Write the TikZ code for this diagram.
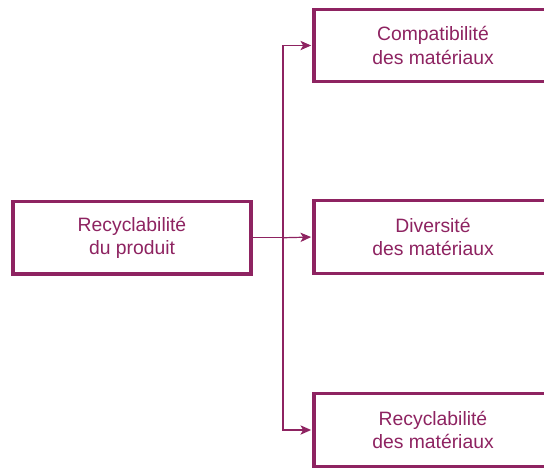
\documentclass[tikz,border=0pt]{standalone}
\usepackage{fontspec}
\setmainfont{Liberation Sans}
\usetikzlibrary{arrows.meta}
\definecolor{plum}{RGB}{142,35,97}
\begin{document}
\begin{tikzpicture}[x=0.75pt,y=-0.75pt,
  box/.style={draw=plum,line width=2.3pt,fill=white,text=plum,align=center,
    minimum width=178.5pt,minimum height=54.4pt,inner sep=0pt,
    font=\fontsize{14.5pt}{17.4pt}\selectfont},
  conn/.style={draw=plum,line width=0.9pt},
  arr/.style={conn,-{Stealth[length=8pt,width=7pt,inset=2pt]},shorten >=1pt}]
\useasboundingbox (0,0) rectangle (544,468);
\node[box] (L) at (132,237.75) {Recyclabilité\\du produit};
\node[box] (T) at (433,45.5) {Compatibilité\\des matériaux};
\node[box] (M) at (433,237) {Diversité\\des matériaux};
\node[box] (B) at (433,430) {Recyclabilité\\des matériaux};
\coordinate (J) at (283,237.75);
\draw[conn] (L.east) -- (J);
\draw[arr] (J) |- (T.west);
\draw[arr] (J) -- (M.west);
\draw[arr] (J) |- (B.west);
\end{tikzpicture}
\end{document}
